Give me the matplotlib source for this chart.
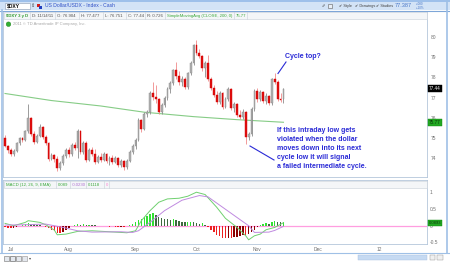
import matplotlib
matplotlib.use("Agg")
import matplotlib.pyplot as plt
from matplotlib.patches import Rectangle, Circle
import numpy as np

# $DXY daily candles, late Jun - 14 Nov 2011 (one entry per trading day)
opens = [75.00, 74.60, 74.40, 74.20, 74.35, 74.75, 75.00, 74.90, 75.35, 76.00,
         75.20, 74.80, 75.10, 75.55, 75.05, 74.75, 73.95, 74.15, 73.95, 73.50,
         73.75, 74.10, 74.40, 74.20, 74.65, 74.50, 75.35, 74.30, 74.75, 73.90,
         74.40, 74.20, 73.80, 74.05, 73.90, 74.20, 73.85, 74.00, 73.80, 74.00,
         73.65, 73.85, 73.55, 73.85, 74.30, 74.60, 74.90, 75.90, 75.45, 76.20,
         76.30, 77.20, 77.05, 76.95, 76.30, 76.65, 77.00, 77.40, 77.70, 78.35,
         78.05, 77.75, 77.90, 77.50, 78.20, 78.70, 79.60, 79.20, 79.05, 78.45,
         78.70, 77.90, 77.45, 77.15, 76.80, 77.20, 76.55, 76.95, 77.40, 76.50,
         76.70, 76.15, 76.05, 76.30, 75.05, 75.20, 76.45, 77.30, 76.95, 77.25,
         76.85, 77.10, 76.75, 77.90, 77.75, 76.95, 76.904]
highs = [75.15, 74.65, 74.50, 74.45, 74.80, 75.05, 75.05, 75.40, 76.70, 76.05,
         75.35, 75.20, 75.70, 75.60, 75.15, 74.80, 74.25, 74.20, 74.10, 73.85,
         74.20, 74.50, 74.55, 74.75, 74.80, 75.45, 75.40, 74.85, 74.85, 74.50,
         74.55, 74.45, 74.15, 74.25, 74.30, 74.25, 74.10, 74.15, 74.10, 74.05,
         73.95, 73.90, 73.95, 74.40, 74.70, 75.00, 76.00, 75.95, 76.30, 76.40,
         77.30, 77.75, 77.60, 77.00, 76.75, 77.10, 77.50, 77.80, 78.40, 78.75,
         78.30, 78.05, 78.00, 78.25, 78.80, 79.65, 79.85, 79.40, 79.10, 78.80,
         79.10, 78.00, 77.60, 77.30, 77.30, 77.25, 77.05, 77.50, 77.45, 76.80,
         76.75, 76.40, 76.45, 76.35, 75.30, 76.55, 77.40, 77.45, 77.35, 77.30,
         77.20, 77.15, 77.95, 78.20, 77.85, 77.20, 77.477]
lows = [74.55, 74.25, 74.10, 74.10, 74.30, 74.65, 74.80, 74.85, 75.25, 75.10,
        74.70, 74.75, 75.05, 74.95, 74.65, 73.85, 73.90, 73.80, 73.35, 73.40,
        73.65, 74.00, 74.05, 74.10, 74.40, 74.00, 74.20, 74.20, 73.80, 73.85,
        74.10, 73.70, 73.75, 73.80, 73.85, 73.75, 73.65, 73.70, 73.75, 73.55,
        73.55, 73.40, 73.45, 73.80, 74.20, 74.45, 74.85, 75.30, 75.40, 76.05,
        76.20, 76.90, 76.75, 76.20, 76.20, 76.55, 76.90, 77.20, 77.60, 77.90,
        77.60, 77.55, 77.40, 77.40, 78.10, 78.60, 79.10, 78.95, 78.30, 78.00,
        77.80, 77.35, 77.05, 76.70, 76.70, 76.45, 76.50, 76.85, 76.40, 76.30,
        76.05, 75.95, 75.95, 74.70, 74.90, 75.10, 76.35, 76.80, 76.85, 76.75,
        76.70, 76.65, 76.65, 77.65, 76.85, 76.80, 76.751]
closes = [74.60, 74.40, 74.20, 74.35, 74.75, 75.00, 74.90, 75.35, 76.00, 75.20,
          74.80, 75.10, 75.55, 75.05, 74.75, 73.95, 74.15, 73.95, 73.50, 73.75,
          74.10, 74.40, 74.20, 74.65, 74.50, 75.35, 74.30, 74.75, 73.90, 74.40,
          74.20, 73.80, 74.05, 73.90, 74.20, 73.85, 74.00, 73.80, 74.00, 73.65,
          73.85, 73.55, 73.85, 74.30, 74.60, 74.90, 75.90, 75.45, 76.20, 76.30,
          77.20, 77.05, 76.95, 76.30, 76.65, 77.00, 77.40, 77.70, 78.35, 78.05,
          77.75, 77.90, 77.50, 78.20, 78.70, 79.60, 79.20, 79.05, 78.45, 78.70,
          77.90, 77.45, 77.15, 76.80, 77.20, 76.55, 76.95, 77.40, 76.50, 76.70,
          76.15, 76.05, 76.30, 75.05, 75.20, 76.45, 77.30, 76.95, 77.25, 76.85,
          77.10, 76.75, 77.90, 77.75, 76.95, 76.90, 77.44]

# 200-day simple moving average
sma_idx = [0, 16, 33, 48, 65, 80, 96]
sma_vals = [77.20, 76.85, 76.58, 76.27, 76.05, 75.90, 75.77]

# MACD (12, 26, 9, EMA)
macd_idx = [0, 3, 7, 8, 12, 14, 17, 18, 21, 25, 30, 36, 42, 45, 47, 50, 53, 56,
            60, 63, 66, 69, 73, 76, 80, 83, 84, 86, 88, 90, 93, 96]
macd_vals = [0.07, 0.0, 0.10, 0.15, 0.10, 0.03, -0.13, -0.27, -0.25, -0.17,
             -0.15, -0.18, -0.21, -0.15, 0.15, 0.45, 0.70, 0.80, 0.82, 0.88,
             1.00, 0.93, 0.55, 0.22, -0.05, -0.30, -0.42, -0.30, -0.25, -0.12,
             -0.05, 0.09]
sig_idx = [0, 7, 14, 20, 25, 30, 40, 44, 46, 50, 55, 61, 67, 70, 84, 86, 91, 93, 96]
sig_vals = [0.02, 0.03, 0.05, -0.05, -0.15, -0.19, -0.18, -0.20, -0.15, 0.10,
            0.45, 0.76, 0.90, 0.86, 0.0, -0.20, -0.19, -0.14, -0.02]
hist = [-0.05, -0.07, -0.08, -0.06, -0.03, -0.01, 0.02, 0.05, 0.08, 0.06,
        0.04, 0.03, 0.02, 0.0, -0.03, -0.08, -0.12, -0.16, -0.21, -0.22,
        -0.19, -0.14, -0.08, -0.02, 0.02, 0.04, 0.03, 0.04, 0.02, 0.03,
        0.02, 0.01, -0.01, -0.02, -0.01, -0.02, -0.03, -0.02, -0.03, -0.04,
        -0.03, -0.04, -0.02, 0.02, 0.06, 0.10, 0.17, 0.20, 0.27, 0.30,
        0.35, 0.37, 0.32, 0.26, 0.22, 0.21, 0.20, 0.18, 0.20, 0.17,
        0.14, 0.12, 0.10, 0.10, 0.12, 0.10, 0.08, 0.06, 0.07, 0.03,
        -0.05, -0.12, -0.20, -0.27, -0.30, -0.36, -0.38, -0.36, -0.37, -0.34,
        -0.33, -0.30, -0.28, -0.28, -0.25, -0.20, -0.12, -0.05, 0.02, 0.04,
        0.07, 0.06, 0.10, 0.14, 0.12, 0.10, 0.11]

month_idx = [2, 22, 45, 66, 87, 108, 129]
month_lbl = ["Jul", "Aug", "Sep", "Oct", "Nov", "Dec", "12"]
price_ticks = [74, 75, 76, 77, 78, 79, 80]
macd_ticks = [1, 0.5, 0, -0.5]
macd_tick_lbl = ["1", "0.5", "0", "-0.5"]

plt.rcParams["font.family"] = ["Liberation Sans", "DejaVu Sans"]

W, H = 450, 265
fig = plt.figure(figsize=(4.5, 2.65), dpi=100)
fig.patch.set_facecolor("white")


def box(l, t, r, b):
    return [l / W, 1 - b / H, (r - l) / W, (b - t) / H]


ax = fig.add_axes(box(3, 11, 427, 177))
ax2 = fig.add_axes(box(3, 180, 427, 244))
ov = fig.add_axes([0, 0, 1, 1])
ov.set_xlim(0, W)
ov.set_ylim(H, 0)
ov.axis("off")

spine_c = "#b4c6da"
for a in (ax, ax2):
    a.set_xlim(-0.7, 145.5)
    for s in a.spines.values():
        s.set_color(spine_c)
        s.set_linewidth(0.6)

# ---- candles
x = np.arange(len(closes))
o = np.array(opens)
c = np.array(closes)
up = c >= o
wick_c = np.where(up, "#8c8c8c", "#f08a8a")
body_c = np.where(up, "#b0b0b0", "#e01010")
ax.vlines(x, lows, highs, colors=wick_c, linewidth=0.6, zorder=2)
ax.bar(x, np.maximum(np.abs(c - o), 0.04), bottom=np.minimum(o, c), width=0.62,
       color=body_c, edgecolor=np.where(up, "#8a8a8a", "#d00000"), linewidth=0.3, zorder=3)
ax.plot(sma_idx, sma_vals, color="#86cc86", linewidth=0.8, zorder=1)

ax.set_ylim(73.05, 81.3)
ax.set_xticks([])
ax.yaxis.tick_right()
ax.set_yticks(price_ticks)
ax.tick_params(axis="y", labelsize=3.5, labelcolor="#707070", length=0, pad=2.5)

tb = ax.get_yaxis_transform()
ax.text(1.004, closes[-1], "77.44", transform=tb, fontsize=3.3, color="white",
        va="center", ha="left",
        bbox=dict(boxstyle="square,pad=0.25", fc="black", ec="black", lw=0.3))
ax.text(1.004, sma_vals[-1], "75.77", transform=tb, fontsize=3.3, color="#0a3a0a",
        va="center", ha="left",
        bbox=dict(boxstyle="square,pad=0.25", fc="#22a822", ec="#118811", lw=0.3))

# ---- MACD panel
hcol = []
prev = 0.0
for h in hist:
    if h >= 0:
        hcol.append("#33e033" if h >= prev else "#3f6a3f")
    else:
        hcol.append("#ee2020" if h <= prev else "#8a0000")
    prev = h
ax2.axhline(0, color="#ff9ee0", linewidth=0.9, zorder=1)
ax2.bar(x, hist, width=0.5, color=hcol, zorder=2)
ax2.plot(macd_idx, macd_vals, color="#6fd06f", linewidth=0.7, zorder=3)
ax2.plot(sig_idx, sig_vals, color="#c08ae0", linewidth=0.7, zorder=3)
ax2.set_ylim(-0.545, 1.364)
ax2.yaxis.tick_right()
ax2.set_yticks(macd_ticks, macd_tick_lbl)
ax2.set_xticks(month_idx, month_lbl)
ax2.tick_params(axis="both", labelsize=3.5, labelcolor="#707070", length=0, pad=2)
t2 = ax2.get_yaxis_transform()
ax2.text(1.004, macd_vals[-1], "0.0893", transform=t2, fontsize=3.0, color="#0a3a0a",
         va="center", ha="left",
         bbox=dict(boxstyle="square,pad=0.25", fc="#22a822", ec="#118811", lw=0.3))

# ---- window chrome
ov.add_patch(Rectangle((0, 0), W, 10, fc="#d3e3f6", ec="none"))
ov.add_patch(Rectangle((0, 0), W, 2, fc="#9ec0ea", ec="none"))
ov.plot([0, W], [10.5, 10.5], color="#7ea6d8", lw=0.8)
ov.plot([2, 2], [10, 253], color="#9fc0e6", lw=1.2)
ov.plot([447, 447], [0, 253], color="#9fc0e6", lw=1.2)
ov.plot([0, W], [252.5, 252.5], color="#9fc0e6", lw=0.8)
ov.add_patch(Rectangle((5, 2.5), 25, 6.5, fc="white", ec="#8a9ab0", lw=0.4))
ov.text(7, 5.9, "$DXY", fontsize=3.6, weight="bold", va="center")
ov.text(31, 5.9, "\u21d5", fontsize=3.6, va="center", color="#444444")
ov.add_patch(Rectangle((37, 3.5), 3, 3, fc="#d02020", ec="none"))
ov.add_patch(Rectangle((39, 5.5), 3, 3, fc="#2040c0", ec="none"))
ov.text(45, 5.9, "US Dollar/USDX - Index - Cash", fontsize=3.6, color="#2e4fc6",
        va="center")
ov.text(322, 5.9, "\u2710", fontsize=3.0, color="#505050", va="center")
ov.add_patch(Rectangle((328, 3.8), 4, 4, fc="#e8eef6", ec="#606060", lw=0.4))
ov.text(339, 5.9, "\u2714 Style", fontsize=2.8, color="#404040", va="center")
ov.text(355, 5.9, "\u2714 Drawings", fontsize=2.8, color="#404040", va="center")
ov.text(376, 5.9, "\u2714 Studies", fontsize=2.8, color="#404040", va="center")
ov.text(395, 5.9, "77.387", fontsize=4.0, color="#4a78c8", va="center")
ov.text(416, 4.2, "+.080", fontsize=2.2, color="#4a78c8", va="center")
ov.text(416, 7.6, "+.10%", fontsize=2.2, color="#4a78c8", va="center")

# quote header row
ov.add_patch(Rectangle((4, 12), 423, 7, fc="#f4f6f8", ec="#c8d0d8", lw=0.4))
hdr = [(5, "$DXY 3 y D", "#2f9a2f", "bold"), (31, "D: 11/14/11", "#505050", "normal"),
       (56, "O: 76.904", "#505050", "normal"), (80, "H: 77.477", "#505050", "normal"),
       (104, "L: 76.751", "#505050", "normal"), (127, "C: 77.44", "#505050", "normal"),
       (146, "R: 0.726", "#505050", "normal"),
       (166, "SimpleMovingAvg (CLOSE, 200, 0)", "#3aa83a", "normal"),
       (235, "75.77", "#3aa83a", "normal")]
for hx, ht, hc, hw in hdr:
    ov.text(hx + 1, 15.6, ht, fontsize=3.1, color=hc, weight=hw, va="center")
for sx in [30, 55, 79, 103, 126, 145, 165, 234, 247]:
    ov.plot([sx, sx], [12, 19], color="#c8d0d8", lw=0.4)
ov.add_patch(Circle((8.5, 24.2), 2.3, fc="#33b033", ec="#1f801f", lw=0.3))
ov.text(13, 24.2, "2011 \u00a9 TD Ameritrade IP Company, Inc.", fontsize=3.0,
        color="#a8a8a8", va="center")

# MACD header row
ov.add_patch(Rectangle((4, 181), 423, 7, fc="#f4f6f8", ec="#c8d0d8", lw=0.4))
mh = [(5, "MACD (12, 26, 9, EMA)", "#3aa83a"), (57, "0.089", "#3aa83a"),
      (71, "-0.0230", "#b070d0"), (87, "0.1118", "#3aa83a"), (105, "0", "#ff80d0")]
for hx, ht, hc in mh:
    ov.text(hx + 1, 184.6, ht, fontsize=3.1, color=hc, va="center")
for sx in [56, 70, 86, 104, 109]:
    ov.plot([sx, sx], [181, 188], color="#c8d0d8", lw=0.4)

# bottom toolbar
for bx, bc in [(4, "#707070"), (10, "#505050"), (16, "#707070"), (22, "#909090")]:
    ov.add_patch(Rectangle((bx, 255.5), 5, 5, fc="#e4e8ee", ec=bc, lw=0.4))
ov.text(29, 258, "\u25be", fontsize=3, color="#505050", va="center")
ov.add_patch(Rectangle((358, 254.5), 69, 5, fc="#c6daf2", ec="#a8c0e0", lw=0.3))
ov.add_patch(Rectangle((430, 254.5), 5, 5, fc="#f0f0f0", ec="#909090", lw=0.3))
ov.add_patch(Rectangle((437, 254.5), 6, 5, fc="#f0f0f0", ec="#909090", lw=0.3))

# ---- annotations
blue = "#2a2ad6"
ov.text(285, 56.5, "Cycle top?", fontsize=5, weight="bold", color=blue, va="center")
ov.plot([286, 278], [62, 73.5], color=blue, lw=0.8)
note = ["If this intraday low gets", "violated when the dollar",
        "moves down into its next", "cycle low it will signal",
        "a failed intermediate cycle."]
for k, line in enumerate(note):
    ov.text(277, 130 + 9.2 * k, line, fontsize=5, weight="bold", color=blue,
            va="center")
ov.plot([250, 274], [146, 160], color=blue, lw=0.8)

fig.savefig("out.png", dpi=100)
